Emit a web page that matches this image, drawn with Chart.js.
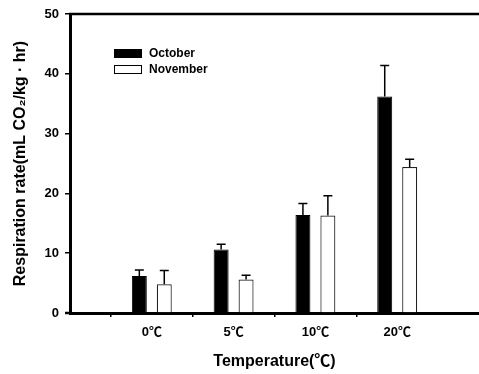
<!DOCTYPE html>
<html>
<head>
<meta charset="utf-8">
<script src="https://cdn.jsdelivr.net/npm/chart.js@4"></script>
<style>
  html, body { margin: 0; padding: 0; background: #fff; }
  #wrap { width: 479px; height: 374px; }
</style>
</head>
<body>
<div id="wrap"><canvas id="myChart"></canvas></div>
<script>
// 溫度類別 (頭尾留空，讓刻度間距對齊原圖)
const temps = ['', '0℃', '5℃', '10℃', '20℃', ''];
const october = [null, 6.2, 10.6, 16.4, 36.2, null];
const november = [null, 4.8, 5.6, 16.3, 24.4, null];
// 誤差線 (只畫上半)
const octoberErr = [null, 1.0, 0.9, 1.9, 5.2, null];
const novemberErr = [null, 2.3, 0.7, 3.3, 1.3, null];
const yTicks = [0, 10, 20, 30, 40, 50];

// ℃ 用 CJK 字型
const FONT = "'Liberation Sans', Arial, 'Noto Sans CJK KR', 'DejaVu Sans', sans-serif";

// 誤差線
const errorBars = {
    id: 'errorBars',
    afterDatasetsDraw(chart) {
        const ctx = chart.ctx;
        const yScale = chart.scales.y;
        chart.data.datasets.forEach((ds, di) => {
            const meta = chart.getDatasetMeta(di);
            meta.data.forEach((bar, i) => {
                const v = ds.data[i];
                const e = ds.errors[i];
                if (v == null || e == null) return;
                const yTop = yScale.getPixelForValue(v + e);
                ctx.save();
                ctx.strokeStyle = '#000';
                ctx.lineWidth = 1.5;
                ctx.beginPath();
                ctx.moveTo(bar.x, bar.y);
                ctx.lineTo(bar.x, yTop);
                ctx.moveTo(bar.x - 4.5, yTop);
                ctx.lineTo(bar.x + 4.5, yTop);
                ctx.stroke();
                ctx.restore();
            });
        });
    }
};

// 上框線 + 圖內圖例
const frameAndLegend = {
    id: 'frameAndLegend',
    afterDraw(chart) {
        const ctx = chart.ctx;
        const a = chart.chartArea;
        ctx.save();
        ctx.strokeStyle = '#000';
        ctx.lineWidth = 2.5;
        ctx.beginPath();
        ctx.moveTo(a.left - 1, a.top);
        ctx.lineTo(a.right, a.top);
        // 底線往左多出一點
        ctx.moveTo(a.left - 5, a.bottom);
        ctx.lineTo(a.left, a.bottom);
        ctx.stroke();

        ctx.font = 'bold 12px ' + FONT;
        ctx.textBaseline = 'middle';
        chart.data.datasets.forEach((ds, i) => {
            const y = 53 + i * 16;
            ctx.fillStyle = ds.backgroundColor;
            ctx.fillRect(114, y - 4, 28, 9);
            ctx.lineWidth = 1;
            ctx.strokeStyle = '#000';
            ctx.strokeRect(114.5, y - 3.5, 27, 8);
            ctx.fillStyle = '#000';
            ctx.fillText(ds.label, 149, y + 0.5);
        });
        ctx.restore();
    }
};

new Chart(document.getElementById('myChart'), {
    type: 'bar',
    data: {
        labels: temps,
        datasets: [
            {
                label: 'October',
                data: october,
                errors: octoberErr,
                backgroundColor: '#000',
                borderColor: '#000',
                borderWidth: 1,
                categoryPercentage: 0.61,
                barPercentage: 0.6
            },
            {
                label: 'November',
                data: november,
                errors: novemberErr,
                backgroundColor: '#fff',
                borderColor: '#222',
                borderWidth: 1.2,
                categoryPercentage: 0.61,
                barPercentage: 0.6
            }
        ]
    },
    options: {
        responsive: true,
        maintainAspectRatio: false,
        animation: false,
        layout: { padding: { top: 14, right: 0, bottom: 0, left: 0 } },
        plugins: {
            legend: { display: false },
            tooltip: { enabled: false }
        },
        scales: {
            x: {
                offset: false,
                afterFit(scale) {
                    scale.height = 61;
                    // 右邊不要留白，底線拉到最右
                    scale.paddingLeft = 0;
                    scale.paddingRight = 0;
                },
                border: { display: true, color: '#000', width: 3 },
                grid: {
                    drawOnChartArea: false,
                    drawTicks: true,
                    tickLength: 4,
                    lineWidth: 1.5,
                    tickColor: (c) => (c.index === 0 || c.index === temps.length - 1) ? 'rgba(0,0,0,0)' : '#000'
                },
                ticks: {
                    color: '#000',
                    padding: 8,
                    font: { family: FONT, size: 13, weight: 'bold' }
                },
                title: {
                    display: true,
                    text: 'Temperature(℃)',
                    color: '#000',
                    padding: { top: 0, bottom: 3 },
                    font: { family: FONT, size: 16, weight: 'bold' }
                }
            },
            y: {
                min: 0,
                max: 50,
                afterFit(scale) { scale.width = 70; },
                afterBuildTicks(scale) { scale.ticks = yTicks.map(v => ({ value: v })); },
                border: { display: true, color: '#000', width: 3 },
                grid: {
                    drawOnChartArea: false,
                    drawTicks: true,
                    tickLength: 5,
                    lineWidth: 1.5,
                    color: '#000'
                },
                ticks: {
                    color: '#000',
                    padding: 6,
                    font: { family: FONT, size: 13, weight: 'bold' }
                },
                title: {
                    display: true,
                    text: 'Respiration rate(mL CO₂/kg · hr)',
                    color: '#000',
                    padding: { top: 11, bottom: 0 },
                    font: { family: FONT, size: 16, weight: 'bold' }
                }
            }
        }
    },
    plugins: [errorBars, frameAndLegend]
});
</script>
</body>
</html>
